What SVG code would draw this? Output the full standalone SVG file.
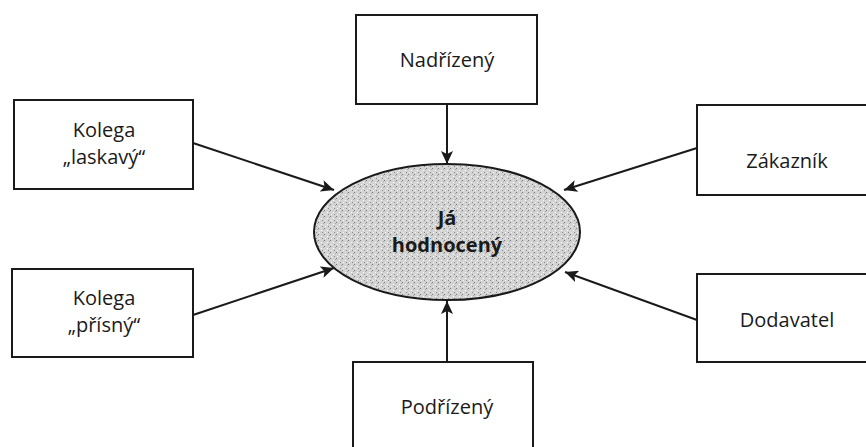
<svg xmlns="http://www.w3.org/2000/svg" width="866" height="447" viewBox="0 0 866 447">
<style>
.box{fill:#fff;stroke:#1a1a1a;stroke-width:2}
.lbl{font-family:"Open Sans","Noto Sans",sans-serif;font-size:20px;fill:#1a1a1a;text-anchor:middle}
.bold{font-weight:bold;font-size:20px}
.conn line{stroke:#1a1a1a;stroke-width:2;marker-end:url(#ah)}
</style>
<defs>
<marker id="ah" markerWidth="14" markerHeight="12" refX="13" refY="6" orient="auto" markerUnits="userSpaceOnUse">
<path d="M0,0 L13,6 L0,12 L3,6 Z" fill="#1a1a1a"/>
</marker>
<pattern id="speck" width="6" height="6" patternUnits="userSpaceOnUse">
<rect width="6" height="6" fill="#d4d4d4"/>
<rect x="0" y="0" width="1" height="1" fill="#777"/>
<rect x="3" y="2" width="1" height="1" fill="#fff"/>
<rect x="4" y="4" width="1" height="1" fill="#888"/>
<rect x="1" y="4" width="1" height="1" fill="#f4f4f4"/>
<rect x="5" y="1" width="1" height="1" fill="#aaa"/>
</pattern>
</defs>
<rect width="866" height="447" fill="#fff"/>
<g class="conn">
<line x1="447" y1="104" x2="447" y2="164"/>
<line x1="193" y1="143" x2="334" y2="190"/>
<line x1="697" y1="148" x2="564" y2="190"/>
<line x1="193" y1="315" x2="334" y2="268"/>
<line x1="697" y1="320" x2="565" y2="272"/>
<line x1="447" y1="362" x2="447" y2="301"/>
</g>
<g id="ja">
<ellipse cx="447" cy="232" rx="133" ry="68" fill="url(#speck)" stroke="#1a1a1a" stroke-width="2"/>
<text class="lbl bold" x="447" y="225">Já</text>
<text class="lbl bold" x="447" y="252">hodnocený</text>
</g>
<g id="nadrizeny">
<rect class="box" x="356" y="15" width="181" height="89"/>
<text class="lbl" x="447" y="67">Nadřízený</text>
</g>
<g id="kolega-laskavy">
<rect class="box" x="14" y="100" width="179" height="89"/>
<text class="lbl" x="104" y="137">Kolega</text>
<text class="lbl" x="104" y="164">„laskavý“</text>
</g>
<g id="zakaznik">
<rect class="box" x="697" y="105" width="175" height="90"/>
<text class="lbl" x="787" y="168">Zákazník</text>
</g>
<g id="kolega-prisny">
<rect class="box" x="12" y="269" width="181" height="88"/>
<text class="lbl" x="104" y="305">Kolega</text>
<text class="lbl" x="104" y="332">„přísný“</text>
</g>
<g id="dodavatel">
<rect class="box" x="697" y="274" width="175" height="88"/>
<text class="lbl" x="787" y="327">Dodavatel</text>
</g>
<g id="podrizeny">
<rect class="box" x="353" y="362" width="180" height="95"/>
<text class="lbl" x="447" y="414">Podřízený</text>
</g>
</svg>
